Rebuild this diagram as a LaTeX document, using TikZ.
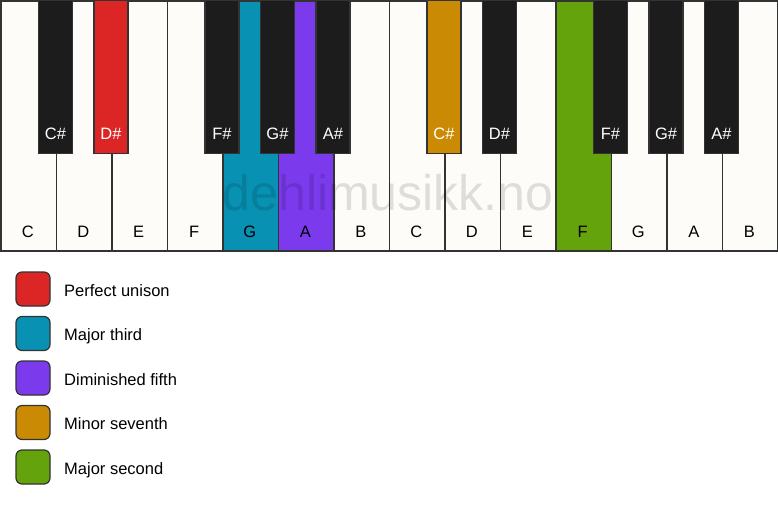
\documentclass[tikz,border=0pt]{standalone}
\usepackage{fontspec}
\setmainfont{Liberation Sans}
\definecolor{keywhite}{HTML}{FDFCF9}
\definecolor{keyblack}{HTML}{1C1C1C}
\definecolor{keyline}{HTML}{333333}
\definecolor{cred}{HTML}{DC2626}
\definecolor{cblue}{HTML}{0891B2}
\definecolor{cpurple}{HTML}{7C3AED}
\definecolor{corange}{HTML}{CA8A04}
\definecolor{cgreen}{HTML}{65A30D}
\tikzset{
  whitekey/.style={draw=keyline, line width=1.5pt, fill=#1, rectangle, anchor=north west, minimum width=55.5pt, minimum height=250pt, inner sep=0pt},
  blackkey/.style={draw=#1, line width=1.2pt, rectangle, anchor=north, minimum width=34pt, minimum height=153pt, inner sep=0pt},
  wlabel/.style={anchor=base, font=\fontsize{16.5}{18}\selectfont, text=black, inner sep=0pt},
  blabel/.style={anchor=base, font=\fontsize{16.5}{18}\selectfont, text=white, inner sep=0pt},
  swatch/.style={draw=keyline, line width=1.2pt, fill=#1, rounded corners=6pt, minimum width=34pt, minimum height=34pt, inner sep=0pt},
  legtext/.style={anchor=base west, font=\fontsize{16.5}{18}\selectfont, inner sep=0pt},
}
\begin{document}
\begin{tikzpicture}[x=1pt,y=-1pt]
\useasboundingbox[fill=white] (0,0) rectangle (778,506);
% white keys
\foreach \i/\n/\c in {0/C/keywhite,1/D/keywhite,2/E/keywhite,3/F/keywhite,4/G/cblue,5/A/cpurple,6/B/keywhite,7/C/keywhite,8/D/keywhite,9/E/keywhite,10/F/cgreen,11/G/keywhite,12/A/keywhite,13/B/keywhite}{
  \node[whitekey=\c] (w\i) at ({\i*55.5},0) {};
  \node[wlabel] (wl\i) at ({\i*55.5+27.75},237) {\n};
}
% black keys
\foreach \i/\n/\f/\d in {1/C\#/keyblack/keyline,2/D\#/cred/keyline,4/F\#/keyblack/keyline,5/G\#/keyblack/keyline,6/A\#/keyblack/keyline,8/C\#/corange/keyline,9/D\#/keyblack/keyline,11/F\#/keyblack/keyline,12/G\#/keyblack/keyline,13/A\#/keyblack/keyline}{
  \node[blackkey=\d, fill=\f] (b\i) at ({\i*55.5},0) {};
  \node[blabel] (bl\i) at ({\i*55.5},139) {\n};
}
% watermark
\node[anchor=base, font=\fontsize{50}{54}\selectfont, text=black, text opacity=0.12, inner sep=0pt] (wm) at (388,210) {dehlimusikk.no};
% legend
\foreach \k/\c/\t in {0/cred/Perfect unison,1/cblue/Major third,2/cpurple/Diminished fifth,3/corange/Minor seventh,4/cgreen/Major second}{
  \node[swatch=\c] (s\k) at (33,{289+\k*44.5}) {};
  \node[legtext] (t\k) at (64,{296+\k*44.5}) {\t};
}
\end{tikzpicture}
\end{document}
